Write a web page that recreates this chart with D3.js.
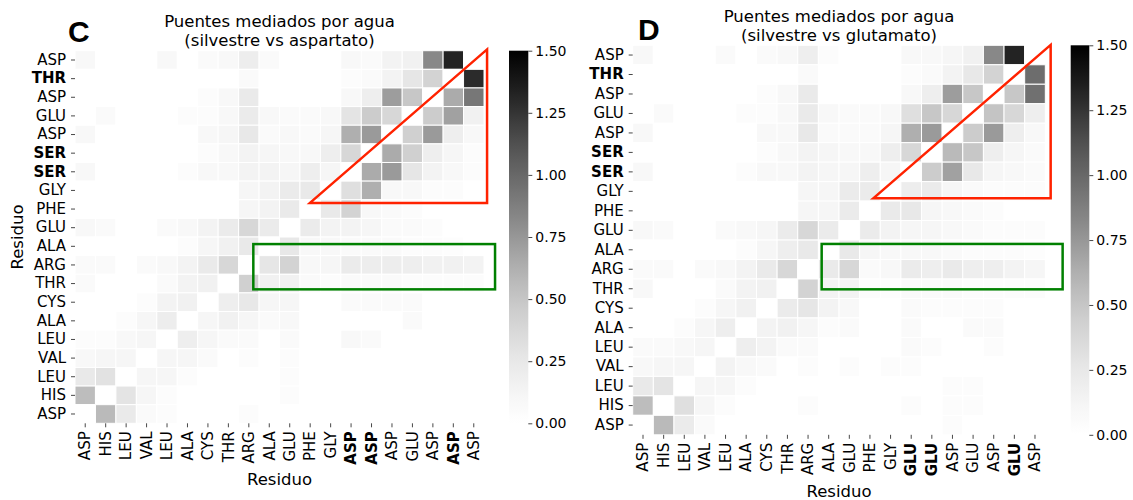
<!DOCTYPE html>
<html>
<head>
<meta charset="utf-8">
<script src="https://cdn.jsdelivr.net/npm/d3@7"></script>
<style>
  body { margin: 0; background: #fff; }
  svg { display: block; }
  text { font-family: "DejaVu Sans", sans-serif; }
</style>
</head>
<body>
<svg id="fig" width="1133" height="500"></svg>
<script>
// Residues on the y axis (wild type), top to bottom
const rowLabels = ["ASP","THR","ASP","GLU","ASP","SER","SER","GLY","PHE","GLU","ALA","ARG","THR","CYS","ALA","LEU","VAL","LEU","HIS","ASP"];
const rowBold = [1, 5, 6];

// Residues on the x axis (mutants), left to right
const colLabelsC = ["ASP","HIS","LEU","VAL","LEU","ALA","CYS","THR","ARG","ALA","GLU","PHE","GLY","ASP","ASP","ASP","GLU","ASP","ASP","ASP"];
const colLabelsD = ["ASP","HIS","LEU","VAL","LEU","ALA","CYS","THR","ARG","ALA","GLU","PHE","GLY","GLU","GLU","ASP","GLU","ASP","GLU","ASP"];
const colBold = [13, 14, 18];

const cbarTicks = [0, 0.25, 0.5, 0.75, 1.0, 1.25, 1.5];

// Water-mediated bridge occupancy, wild type vs aspartate mutant
const valuesC = [
  [.09,0,0,0,.09,0,.06,.09,.20,.06, 0,0,0,.09,.06,.14,.16,.825,1.33,0],
  [0,0,0,0,0,0,0,0,.06,0, 0,0,0,.04,.06,.14,.27,.41,0,1.29],
  [0,0,0,0,0,0,.04,.09,.23,0, 0,0,0,.09,.19,.72,.49,0,.65,.915],
  [0,.06,0,0,0,.04,.04,.09,.22,.09, .06,.06,.09,.285,.46,.38,0,.46,.70,.16],
  [.09,0,0,0,0,0,.09,.11,.25,.06, .09,.06,.11,.625,.735,0,.435,.735,.19,.09],
  [0,0,0,0,0,0,.04,.09,.14,.11, .09,.09,.19,.38,0,.65,.435,.19,.11,.04],
  [.09,0,0,0,0,.04,.09,.09,.14,.14, .11,.19,.11,0,.65,.735,.27,.14,.09,.04],
  [0,0,0,0,0,0,0,0,.11,.14, .22,.24,0,.32,.625,.09,.09,.04,.04,0],
  [0,0,0,0,0,0,0,0,.11,.14, .23,0,.24,.41,.09,.06,.04,0,0,0],
  [.09,.06,0,0,.06,.09,.14,.22,.38,.22, 0,.22,.14,.14,.11,.06,.06,.04,0,0],
  [0,0,0,0,0,.04,.11,.16,.24,0, .25,.09,.09,.06,.06,.06,.04,.04,.03,0],
  [.06,.06,0,.06,.09,.14,.23,.38,0,.27, .41,.09,.11,.22,.20,.20,.19,.16,.16,.14],
  [.06,0,0,0,.06,.14,.16,0,.435,.16, .16,.06,.04,.06,.06,.06,.04,.04,.04,.04],
  [0,0,0,.04,.14,.16,0,.19,.25,.11, .11,0,0,.06,.06,.06,.06,0,0,0],
  [0,0,.04,.11,.20,0,.11,.16,.11,.06, .09,0,0,0,0,0,.06,0,0,0],
  [.04,.04,.09,.11,0,.19,.11,.06,.06,0, .06,0,0,.09,.06,0,0,0,0,0],
  [.09,.11,.11,0,.11,.11,.06,0,.04,0, .04,0,0,0,0,0,0,0,0,0],
  [.24,.30,0,.11,.11,.04,0,0,0,0, .04,0,0,0,0,0,0,0,0,0],
  [.55,0,.285,.11,.04,0,0,0,0,0, .04,0,0,0,0,0,0,0,0,0],
  [0,.57,.23,.06,.04,0,0,0,.04,0, 0,0,0,0,0,0,0,0,0,0]
];

// Water-mediated bridge occupancy, wild type vs glutamate mutant
const valuesD = [
  [.09,0,0,0,.06,0,.06,.09,.19,.04, 0,0,0,.09,.09,.11,.16,.825,1.33,0],
  [0,0,0,0,0,0,0,0,.06,0, 0,0,0,.04,.06,.14,.25,.41,0,.97],
  [0,0,0,0,0,0,.04,.09,.23,0, 0,0,0,.09,.19,.72,.49,0,.49,.955],
  [0,.06,0,0,0,.04,.04,.09,.23,.09, .06,.06,.09,.32,.49,.38,0,.51,.38,.19],
  [.09,0,0,0,0,0,.09,.09,.25,.06, .06,.06,.11,.625,.735,0,.46,.735,.19,.09],
  [0,0,0,0,0,0,.04,.09,.14,.11, .09,.09,.19,.38,0,.57,.49,.19,.11,.06],
  [.09,0,0,0,0,.04,.09,.09,.14,.11, .11,.19,.11,0,.46,.70,.25,.11,.09,.06],
  [0,0,0,0,0,0,0,0,.11,.11, .22,.22,0,.20,.22,.11,.06,.04,.04,.04],
  [0,0,0,0,0,0,0,0,.11,.11, .22,0,.23,.25,.11,.09,.06,.04,0,0],
  [.09,.06,0,0,.06,.09,.11,.22,.38,.22, 0,.22,.14,.11,.11,.09,.06,.04,.04,.04],
  [0,0,0,0,0,.04,.11,.19,.24,0, .24,.11,.09,.09,.09,.06,.04,.04,.04,.03],
  [.06,.06,0,.06,.09,.14,.23,.38,0,.23, .38,.06,.09,.22,.19,.23,.19,.19,.14,.11],
  [.09,0,0,0,.06,.14,.16,0,.41,.14, .14,.04,.03,.06,.06,.06,.04,.04,.04,.04],
  [0,0,0,.04,.11,.16,0,.22,.27,.14, .09,0,0,.06,.04,.04,.04,.04,0,0],
  [0,0,.04,.11,.19,0,.14,.16,.11,.04, .06,0,0,.06,0,0,.06,.06,0,0],
  [.06,.06,.09,.11,0,.19,.14,.06,.06,0, 0,0,0,.06,.04,0,0,.04,0,0],
  [.09,.11,.11,0,.14,.09,.06,0,.04,0, .04,0,.04,.04,0,0,0,0,0,0],
  [.24,.285,0,.11,.11,.04,0,0,0,0, 0,0,0,0,0,.04,.04,0,0,0],
  [.55,0,.32,.11,.04,0,0,0,.04,0, 0,0,0,.04,0,.04,.04,0,0,0],
  [0,.57,.22,.06,0,0,0,0,0,0, 0,0,0,0,0,.04,0,0,0,0]
];

// Highlight shapes, in cell units (column, row)
const triangleC = [[11.49, 8.17], [20.15, -0.07], [20.15, 8.17]];
const boxC = [[8.72, 10.38], [20.54, 12.81]];
const triangleD = [[11.66, 7.86], [20.26, -0.02], [20.26, 7.86]];
const boxD = [[9.16, 10.2], [20.84, 12.53]];

const svg = d3.select("#fig");
const color = d3.scaleSequential(d3.interpolateGreys).domain([0, 1.5]);

// shared vertical gradient for the colour bars
const grad = svg.append("defs").append("linearGradient")
  .attr("id", "greys").attr("x1", 0).attr("y1", 1).attr("x2", 0).attr("y2", 0);
d3.range(0, 1.0001, 0.02).forEach(t => {
  grad.append("stop").attr("offset", t).attr("stop-color", color(t * 1.5));
});

function panel(cfg) {
  const g = svg.append("g");
  const x = d3.scaleBand().domain(d3.range(20)).range([cfg.left, cfg.right]);
  const y = d3.scaleBand().domain(d3.range(20)).range([cfg.top, cfg.bottom]);
  const xu = d3.scaleLinear().domain([0, 20]).range([cfg.left, cfg.right]);
  const yu = d3.scaleLinear().domain([0, 20]).range([cfg.top, cfg.bottom]);

  const cells = cfg.values.flatMap((row, r) => row.map((v, c) => ({ r, c, v })));
  g.append("g").selectAll("rect").data(cells).join("rect")
    .attr("x", d => x(d.c)).attr("y", d => y(d.r))
    .attr("width", x.bandwidth()).attr("height", y.bandwidth())
    .attr("fill", d => color(d.v))
    .attr("stroke", "#fff").attr("stroke-width", 1);

  // y axis
  const ay = g.append("g").attr("transform", `translate(${cfg.left},0)`)
    .call(d3.axisLeft(y).tickSize(4).tickPadding(5).tickFormat(i => rowLabels[i]));
  ay.select(".domain").remove();
  ay.selectAll(".tick line").attr("stroke", "#333").attr("stroke-width", 0.9);
  ay.selectAll(".tick text")
    .style("font-family", '"DejaVu Sans", sans-serif').style("font-size", "15px")
    .style("font-weight", i => rowBold.includes(i) ? "bold" : "normal")
    .attr("fill", "#000");

  // x axis
  const ax = g.append("g").attr("transform", `translate(0,${cfg.bottom})`)
    .call(d3.axisBottom(x).tickSize(4).tickPadding(4).tickFormat(i => cfg.colLabels[i]));
  ax.select(".domain").remove();
  ax.selectAll(".tick line").attr("stroke", "#333").attr("stroke-width", 0.9);
  ax.selectAll(".tick text")
    .attr("transform", "rotate(-90)").attr("text-anchor", "end")
    .attr("x", -8).attr("y", 0).attr("dy", "0.35em")
    .style("font-family", '"DejaVu Sans", sans-serif').style("font-size", "15px")
    .style("font-weight", i => colBold.includes(i) ? "bold" : "normal")
    .attr("fill", "#000");

  // axis titles
  g.append("text").attr("x", (cfg.left + cfg.right) / 2).attr("y", cfg.xLabelY)
    .attr("text-anchor", "middle").style("font-size", "16.5px").text("Residuo");
  if (cfg.yLabel) {
    g.append("text")
      .attr("transform", `translate(${cfg.yLabelX},${(cfg.top + cfg.bottom) / 2}) rotate(-90)`)
      .attr("text-anchor", "middle").style("font-size", "16.5px").text("Residuo");
  }

  // title
  const tx = (cfg.left + cfg.right) / 2;
  g.append("text").attr("x", tx).attr("y", cfg.titleY).attr("text-anchor", "middle")
    .style("font-size", "16.5px").text("Puentes mediados por agua");
  g.append("text").attr("x", tx).attr("y", cfg.titleY + 19).attr("text-anchor", "middle")
    .style("font-size", "16.5px").text(cfg.subtitle);

  // panel letter
  g.append("text").attr("x", cfg.letterX).attr("y", cfg.letterY)
    .style("font-family", '"Liberation Sans", Arial, sans-serif')
    .style("font-weight", "bold").style("font-size", "30px").text(cfg.letter);

  // colour bar
  const cs = d3.scaleLinear().domain([0, 1.5]).range([cfg.bottom, cfg.top]);
  g.append("rect").attr("x", cfg.cbX).attr("y", cfg.top)
    .attr("width", cfg.cbW).attr("height", cfg.bottom - cfg.top)
    .attr("fill", "url(#greys)");
  const ac = g.append("g").attr("transform", `translate(${cfg.cbX + cfg.cbW},0)`)
    .call(d3.axisRight(cs).tickValues(cbarTicks).tickSize(4).tickPadding(3).tickFormat(d3.format(".2f")));
  ac.select(".domain").remove();
  ac.selectAll(".tick line").attr("stroke", "#333").attr("stroke-width", 0.9);
  ac.selectAll(".tick text")
    .style("font-family", '"DejaVu Sans", sans-serif').style("font-size", "14px")
    .attr("fill", "#000");

  // highlighted regions
  g.append("polygon")
    .attr("points", cfg.triangle.map(p => [xu(p[0]), yu(p[1])].join(",")).join(" "))
    .attr("fill", "none").attr("stroke", "#ff2200").attr("stroke-width", 2.5);
  g.append("rect")
    .attr("x", xu(cfg.box[0][0])).attr("y", yu(cfg.box[0][1]))
    .attr("width", xu(cfg.box[1][0]) - xu(cfg.box[0][0]))
    .attr("height", yu(cfg.box[1][1]) - yu(cfg.box[0][1]))
    .attr("fill", "none").attr("stroke", "#008000").attr("stroke-width", 2.5);
}

panel({
  values: valuesC, colLabels: colLabelsC, subtitle: "(silvestre vs aspartato)",
  letter: "C", letterX: 68, letterY: 42,
  left: 75, right: 484, top: 50.7, bottom: 423.3,
  cbX: 509, cbW: 19.3, titleY: 27, xLabelY: 485,
  yLabel: true, yLabelX: 23,
  triangle: triangleC, box: boxC
});

panel({
  values: valuesD, colLabels: colLabelsD, subtitle: "(silvestre vs glutamato)",
  letter: "D", letterX: 638, letterY: 40,
  left: 632.7, right: 1045.3, top: 45.3, bottom: 434.8,
  cbX: 1070.7, cbW: 18.6, titleY: 22, xLabelY: 497,
  yLabel: false,
  triangle: triangleD, box: boxD
});
</script>
</body>
</html>
